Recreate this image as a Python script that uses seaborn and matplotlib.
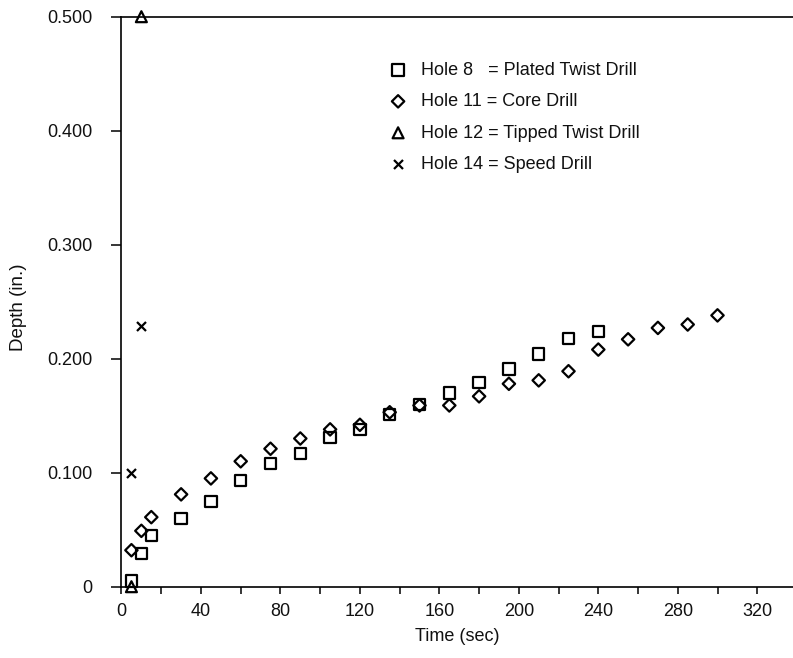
import matplotlib
matplotlib.use("Agg")
import matplotlib.pyplot as plt
import seaborn as sns
import pandas as pd

sns.set_theme(style="ticks")
plt.rcParams['font.family'] = ['Liberation Sans', 'DejaVu Sans']

# Hole 8 = Plated Twist Drill
t8 = [5, 10, 15, 30, 45, 60, 75, 90, 105, 120, 135, 150, 165, 180, 195, 210, 225, 240]
d8 = [0.005, 0.029, 0.045, 0.060, 0.075, 0.093, 0.108, 0.117, 0.131, 0.138, 0.151,
      0.160, 0.170, 0.179, 0.191, 0.204, 0.218, 0.224]
# Hole 11 = Core Drill
t11 = [5, 10, 15, 30, 45, 60, 75, 90, 105, 120, 135, 150, 165, 180, 195, 210, 225,
       240, 255, 270, 285, 300]
d11 = [0.032, 0.049, 0.061, 0.081, 0.095, 0.110, 0.121, 0.130, 0.138, 0.142, 0.153,
       0.159, 0.159, 0.167, 0.178, 0.181, 0.189, 0.208, 0.217, 0.227, 0.230, 0.238]
# Hole 12 = Tipped Twist Drill
t12 = [5, 10]
d12 = [0.0, 0.500]
# Hole 14 = Speed Drill
t14 = [5, 10]
d14 = [0.100, 0.229]

labels = ["Hole 8   = Plated Twist Drill", "Hole 11 = Core Drill",
          "Hole 12 = Tipped Twist Drill", "Hole 14 = Speed Drill"]
xticks = [0, 40, 80, 120, 160, 200, 240, 280, 320]
yticks = [0, 0.1, 0.2, 0.3, 0.4, 0.5]
yticklabels = ["0", "0.100", "0.200", "0.300", "0.400", "0.500"]

fig = plt.figure(figsize=(7.93, 6.58), dpi=100)
ax = fig.add_axes([121.5 / 793, 1 - 586.7 / 658, 1 - 121.5 / 793, (586.7 - 16.7) / 658])

series = [(t8, d8, 's', 66, labels[0]),
          (t11, d11, 'D', 40, labels[1]),
          (t12, d12, '^', 62, labels[2]),
          (t14, d14, 'x', 42, labels[3])]
for t, d, m, s, lab in series:
    df = pd.DataFrame({"Time": t, "Depth": d})
    if m == 'x':
        sns.scatterplot(data=df, x="Time", y="Depth", marker=m, s=s, color='black',
                        linewidth=1.6, label=lab, ax=ax, clip_on=False, zorder=3)
    else:
        sns.scatterplot(data=df, x="Time", y="Depth", marker=m, s=s, color='black',
                        facecolor='none', edgecolor='black', linewidth=1.6,
                        label=lab, ax=ax, clip_on=False, zorder=3)

ax.set_xlim(0, 338)
ax.set_ylim(0, 0.5)
ax.set_xticks(xticks)
ax.set_xticks(list(range(20, 340, 40)), minor=True)
ax.set_yticks(yticks)
ax.set_yticklabels(yticklabels)

for side in ['left', 'bottom', 'top']:
    ax.spines[side].set_visible(True)
    ax.spines[side].set_color('black')
    ax.spines[side].set_linewidth(1.2)
ax.spines['right'].set_visible(False)

ax.tick_params(axis='both', which='both', direction='out', color='black', width=1.1,
               labelsize=13, labelcolor='#111111')
ax.tick_params(axis='x', which='both', length=5, pad=7)
ax.tick_params(axis='y', which='major', length=7, pad=14)

ax.set_xlabel("Time (sec)", fontsize=13, color='#111111')
ax.set_ylabel("Depth (in.)", fontsize=13.5, color='#111111')
ax.xaxis.set_label_coords(0.500, -0.072)
ax.yaxis.set_label_coords(-0.141, 0.49)

leg = ax.legend(loc='upper left', bbox_to_anchor=(0.385, 0.937), frameon=False,
                fontsize=13, labelspacing=0.80, handletextpad=0.75,
                handlelength=1.0, borderpad=0)
for txt in leg.get_texts():
    txt.set_color('#111111')

fig.savefig("out.png", dpi=100)
